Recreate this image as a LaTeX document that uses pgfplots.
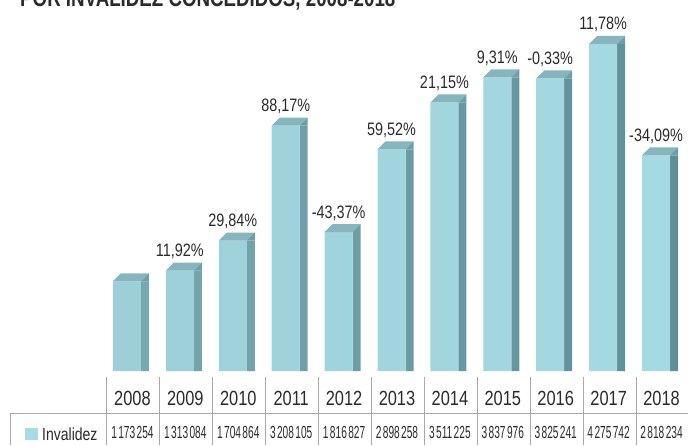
\documentclass[border=0pt]{standalone}
\usepackage{fontspec}
\setmainfont{Liberation Sans}[FakeStretch=0.8]
\newfontfamily\valfont{Liberation Sans}[FakeStretch=0.58]
\newfontfamily\titlefont{Liberation Sans}[FakeStretch=0.78]
\usepackage{pgfplots}
\pgfplotsset{compat=1.18}
\newcommand\ts{\hspace{1.4pt}}
\definecolor{txt}{HTML}{2A2A2A}
\definecolor{frontL}{HTML}{9CCFD8}
\definecolor{frontM}{HTML}{B0E2EA}
\definecolor{frontR}{HTML}{A6DAE3}
\definecolor{sideL}{HTML}{77A7AF}
\definecolor{sideR}{HTML}{5E8E97}
\definecolor{captop}{HTML}{86B5BD}
\definecolor{sidetop}{HTML}{6E9EA6}
\definecolor{grid}{HTML}{A8A8A8}
\definecolor{swatch}{HTML}{A8DCE4}
\pgfdeclareplotmark{cap}{%
  \pgfsetfillcolor{captop}%
  \pgfpathmoveto{\pgfpoint{-19.5pt}{0pt}}%
  \pgfpathlineto{\pgfpoint{8.5pt}{0pt}}%
  \pgfpathlineto{\pgfpoint{16.5pt}{8pt}}%
  \pgfpathlineto{\pgfpoint{-11.5pt}{8pt}}%
  \pgfpathclose
  \pgfusepathqfill
  \pgfsetfillcolor{sidetop}%
  \pgfpathmoveto{\pgfpoint{8.5pt}{0pt}}%
  \pgfpathlineto{\pgfpoint{16.5pt}{8pt}}%
  \pgfpathlineto{\pgfpoint{16.5pt}{0pt}}%
  \pgfpathclose
  \pgfusepathqfill
}
\pgfplotstableread{
x y
0 1173254
1 1313084
2 1704864
3 3208105
4 1816827
5 2898258
6 3511225
7 3837976
8 3825241
9 4275742
10 2818234
}\datatable
\begin{document}
\begin{tikzpicture}[x=1pt,y=1pt]
\useasboundingbox (0,0) rectangle (688,445);
\node[anchor=base west, inner sep=0, text=txt, font=\titlefont\bfseries\fontsize{24}{26}\selectfont] at (20,438) {POR INVALIDEZ CONCEDIDOS, 2008-2018};
\begin{axis}[
  at={(106pt,68pt)}, anchor=south west, scale only axis,
  width=582pt, height=377pt,
  xmin=-0.5, xmax=10.5, ymin=-78400, ymax=4850000,
  axis line style={draw=none}, ytick=\empty, scaled y ticks=false,
  xtick={0,...,10},
  xticklabels={2008,2009,2010,2011,2012,2013,2014,2015,2016,2017,2018},
  major tick length=0pt,
  xticklabel style={font=\fontsize{20.5}{22}\selectfont, text=txt, anchor=base, yshift=-28pt, inner sep=0pt},
  extra x ticks={0,...,10},
  extra x tick labels={1\ts173\ts254,1\ts313\ts084,1\ts704\ts864,3\ts208\ts105,1\ts816\ts827,2\ts898\ts258,3\ts511\ts225,3\ts837\ts976,3\ts825\ts241,4\ts275\ts742,2\ts818\ts234},
  extra x tick style={major tick length=0pt, xticklabel style={font=\valfont\fontsize{17.5}{19}\selectfont, yshift=-33pt}},
  clip=false,
]
\addplot[ybar, bar width=8pt, bar shift=12.5pt, draw=none, left color=sideL, right color=sideR] table {\datatable};
\addplot[ybar, bar width=28pt, bar shift=-5.5pt, draw=none, shading=axis, left color=frontL, middle color=frontM, right color=frontR,
  nodes near coords, point meta=explicit symbolic,
  every node near coord/.style={anchor=base, yshift=14pt, xshift=-5.5pt, inner sep=0pt, text=txt, font=\fontsize{18}{20}\selectfont}]
  coordinates {(0,1173254) [] (1,1313084) [11,92\%] (2,1704864) [29,84\%] (3,3208105) [88,17\%] (4,1816827) [-43,37\%] (5,2898258) [59,52\%] (6,3511225) [21,15\%] (7,3837976) [9,31\%] (8,3825241) [-0,33\%] (9,4275742) [11,78\%] (10,2818234) [-34,09\%]};
\addplot[only marks, mark=cap] table {\datatable};
\end{axis}
\begin{scope}[draw=grid, line width=0.8pt]
\foreach \k in {0,...,10} { \draw (106+53*\k,68) -- (106+53*\k,0); }
\draw (10,32) -- (688,32);
\draw (10,32) -- (10,0);
\end{scope}
\fill[swatch] (25,5) rectangle (38,17);
\node[anchor=base west, inner sep=0, text=txt, font=\fontsize{17.5}{19}\selectfont] at (42,4.5) {Invalidez};
\end{tikzpicture}
\end{document}
